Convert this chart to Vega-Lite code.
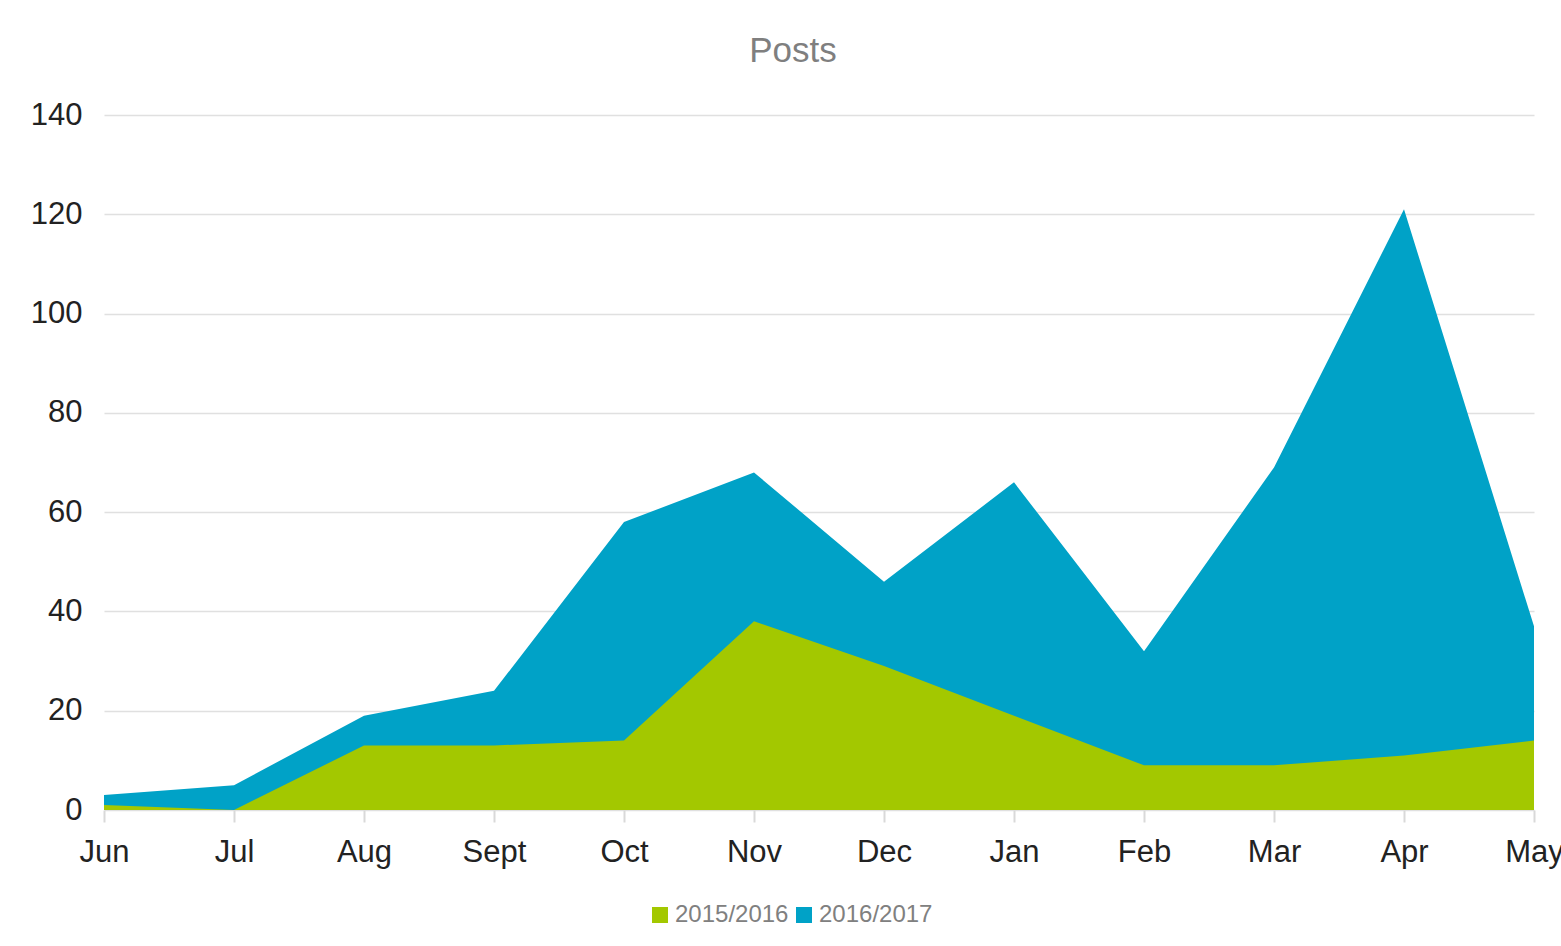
{
  "$schema": "https://vega.github.io/schema/vega-lite/v6.json",
  "width": 1430,
  "height": 695,
  "autosize": {"type": "none"},
  "padding": {"left": 104, "top": 115, "right": 27, "bottom": 136},
  "background": "#ffffff",
  "title": {
    "text": "Posts",
    "fontSize": 35,
    "font": "Liberation Sans",
    "fontWeight": "normal",
    "color": "#7f7f7f",
    "anchor": "middle",
    "offset": 30,
    "dx": -26
  },
  "data": {
    "values": [
      {"month": "Jun", "season": "2015/2016", "posts": 1},
      {"month": "Jul", "season": "2015/2016", "posts": 0},
      {"month": "Aug", "season": "2015/2016", "posts": 13},
      {"month": "Sept", "season": "2015/2016", "posts": 13},
      {"month": "Oct", "season": "2015/2016", "posts": 14},
      {"month": "Nov", "season": "2015/2016", "posts": 38},
      {"month": "Dec", "season": "2015/2016", "posts": 29},
      {"month": "Jan", "season": "2015/2016", "posts": 19},
      {"month": "Feb", "season": "2015/2016", "posts": 9},
      {"month": "Mar", "season": "2015/2016", "posts": 9},
      {"month": "Apr", "season": "2015/2016", "posts": 11},
      {"month": "May", "season": "2015/2016", "posts": 14},
      {"month": "Jun", "season": "2016/2017", "posts": 3},
      {"month": "Jul", "season": "2016/2017", "posts": 5},
      {"month": "Aug", "season": "2016/2017", "posts": 19},
      {"month": "Sept", "season": "2016/2017", "posts": 24},
      {"month": "Oct", "season": "2016/2017", "posts": 58},
      {"month": "Nov", "season": "2016/2017", "posts": 68},
      {"month": "Dec", "season": "2016/2017", "posts": 46},
      {"month": "Jan", "season": "2016/2017", "posts": 66},
      {"month": "Feb", "season": "2016/2017", "posts": 32},
      {"month": "Mar", "season": "2016/2017", "posts": 69},
      {"month": "Apr", "season": "2016/2017", "posts": 121},
      {"month": "May", "season": "2016/2017", "posts": 37}
    ]
  },
  "encoding": {
    "x": {
      "field": "month",
      "type": "ordinal",
      "sort": ["Jun", "Jul", "Aug", "Sept", "Oct", "Nov", "Dec", "Jan", "Feb", "Mar", "Apr", "May"],
      "scale": {"type": "point", "padding": 0},
      "axis": {
        "title": null,
        "labelAngle": 0,
        "labelFontSize": 31,
        "labelFont": "Liberation Sans",
        "labelColor": "#222222",
        "labelPadding": 15,
        "tickSize": 12,
        "tickColor": "#d9d9d9",
        "tickWidth": 2,
        "domain": false,
        "grid": false
      }
    },
    "y": {
      "field": "posts",
      "type": "quantitative",
      "stack": null,
      "scale": {"domain": [0, 140]},
      "axis": {
        "title": null,
        "values": [0, 20, 40, 60, 80, 100, 120, 140],
        "labelFontSize": 31,
        "labelFont": "Liberation Sans",
        "labelColor": "#222222",
        "labelPadding": 22,
        "ticks": false,
        "domain": false,
        "grid": true,
        "gridColor": "#e0e0e0",
        "gridWidth": 1.5
      }
    },
    "color": {
      "field": "season",
      "type": "nominal",
      "scale": {"domain": ["2015/2016", "2016/2017"], "range": ["#a3c800", "#00a2c7"]},
      "legend": {
        "title": null,
        "orient": "none",
        "legendX": 544,
        "legendY": 788,
        "direction": "horizontal",
        "symbolType": "square",
        "symbolSize": 256,
        "symbolStrokeWidth": 0,
        "symbolOpacity": 1,
        "labelFontSize": 24,
        "labelFont": "Liberation Sans",
        "labelColor": "#808080",
        "columnPadding": 3,
        "labelOffset": 3
      }
    }
  },
  "layer": [
    {
      "transform": [{"filter": "datum.season == '2016/2017'"}],
      "mark": {"type": "area", "opacity": 1}
    },
    {
      "transform": [{"filter": "datum.season == '2015/2016'"}],
      "mark": {"type": "area", "opacity": 1}
    }
  ],
  "config": {"view": {"stroke": null}}
}
